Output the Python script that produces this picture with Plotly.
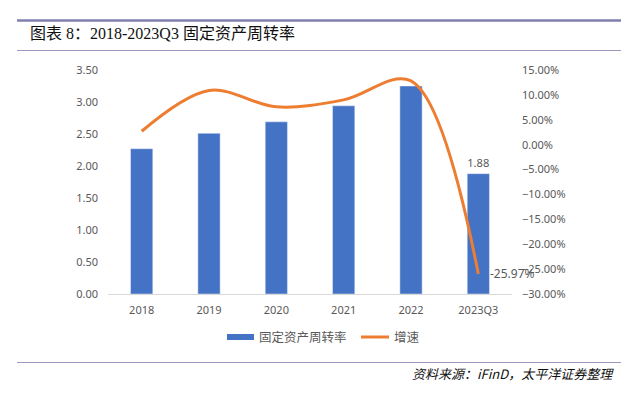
import plotly.graph_objects as go

categories = ["2018", "2019", "2020", "2021", "2022", "2023Q3"]
turnover = [2.27, 2.51, 2.69, 2.94, 3.25, 1.88]
growth = [2.7, 10.9, 7.6, 9.0, 12.8, -25.97]

BAR = "#4472C4"
LINE = "#ED7D31"
TXT = "#595959"

# page body has an 8px margin; figure sized to fill the rest of the window
OFF = 8
W, H = 634 - OFF, 399 - OFF
L, R, T, B = 100, 122, 62, 105
PW, PH = W - L - R, H - T - B


def px(x):
    return (x - OFF - L) / PW


def py(y):
    return (H - B - (y - OFF)) / PH


fig = go.Figure()
fig.add_trace(go.Bar(
    x=categories, y=turnover, name="固定资产周转率", marker_color=BAR,
    width=0.33, yaxis="y", showlegend=False,
    text=["", "", "", "", "", f"{turnover[-1]:.2f}"], textposition="outside",
    textfont=dict(color=TXT, size=12), cliponaxis=False,
))
fig.add_trace(go.Scatter(
    x=categories, y=growth, name="增速", mode="lines", yaxis="y2",
    showlegend=False, cliponaxis=False,
    line=dict(color=LINE, width=3, shape="spline", smoothing=1.0),
))
# data label of last growth point
fig.add_annotation(
    x=categories[-1], y=growth[-1], xref="x", yref="y2",
    text=f"{growth[-1]:.2f}%", showarrow=False, xanchor="left", yanchor="middle",
    xshift=10, font=dict(color=TXT, size=12),
)

fig.update_layout(
    width=W, height=H,
    margin=dict(l=L, r=R, t=T, b=B, autoexpand=False),
    paper_bgcolor="white", plot_bgcolor="white",
    font=dict(family="Noto Sans, Noto Sans CJK SC", color=TXT, size=11),
    xaxis=dict(range=[-0.5, len(categories) - 0.5], showgrid=False, showline=True,
               linecolor="#D9D9D9", linewidth=1,
               ticks="", ticklabelstandoff=6, automargin=False,
               tickfont=dict(size=11, color=TXT)),
    yaxis=dict(range=[0, 3.5], dtick=0.5, tickformat=".2f", showgrid=False,
               zeroline=False, showline=False, ticks="", ticklabelstandoff=9,
               automargin=False, tickfont=dict(size=11, color=TXT)),
    yaxis2=dict(range=[-30, 15], dtick=5, tickformat=".2f", ticksuffix="%",
                overlaying="y", side="right", showgrid=False, zeroline=False,
                showline=False, ticks="", ticklabelstandoff=9, automargin=False,
                tickfont=dict(size=11, color=TXT)),
    showlegend=False,
)

# title
fig.add_annotation(
    text="图表 8：2018-2023Q3 固定资产周转率", xref="paper", yref="paper",
    x=px(28), y=py(33), xanchor="left", yanchor="middle", showarrow=False,
    font=dict(family="Liberation Serif, Noto Sans CJK SC", size=16, color="#111111"),
)
# source
fig.add_annotation(
    text="<i>资料来源：iFinD，太平洋证券整理</i>", xref="paper", yref="paper",
    x=px(616), y=py(373), xanchor="right", yanchor="middle", showarrow=False,
    font=dict(family="Noto Sans CJK SC", size=13, color="#111111"),
)

# decorative rules
fig.add_shape(type="line", xref="paper", yref="paper", x0=px(17), x1=px(621),
              y0=py(20.5), y1=py(20.5), line=dict(color="#7F7FAF", width=2.5))
fig.add_shape(type="line", xref="paper", yref="paper", x0=px(17), x1=px(621),
              y0=py(50.5), y1=py(50.5), line=dict(color="#9999C0", width=1))
fig.add_shape(type="line", xref="paper", yref="paper", x0=px(17), x1=px(621),
              y0=py(362.5), y1=py(362.5), line=dict(color="#9999C0", width=1))

# legend (drawn manually to match the wide bar swatch)
fig.add_shape(type="rect", xref="paper", yref="paper", x0=px(227), x1=px(254),
              y0=py(340), y1=py(334), fillcolor=BAR, line=dict(width=0))
fig.add_annotation(text="固定资产周转率", xref="paper", yref="paper",
                   x=px(257), y=py(337), xanchor="left", yanchor="middle",
                   showarrow=False, font=dict(size=12.5, color=TXT))
fig.add_shape(type="line", xref="paper", yref="paper", x0=px(361), x1=px(389),
              y0=py(337), y1=py(337), line=dict(color=LINE, width=3))
fig.add_annotation(text="增速", xref="paper", yref="paper",
                   x=px(392), y=py(337), xanchor="left", yanchor="middle",
                   showarrow=False, font=dict(size=12.5, color=TXT))

fig.write_html("out.html")
